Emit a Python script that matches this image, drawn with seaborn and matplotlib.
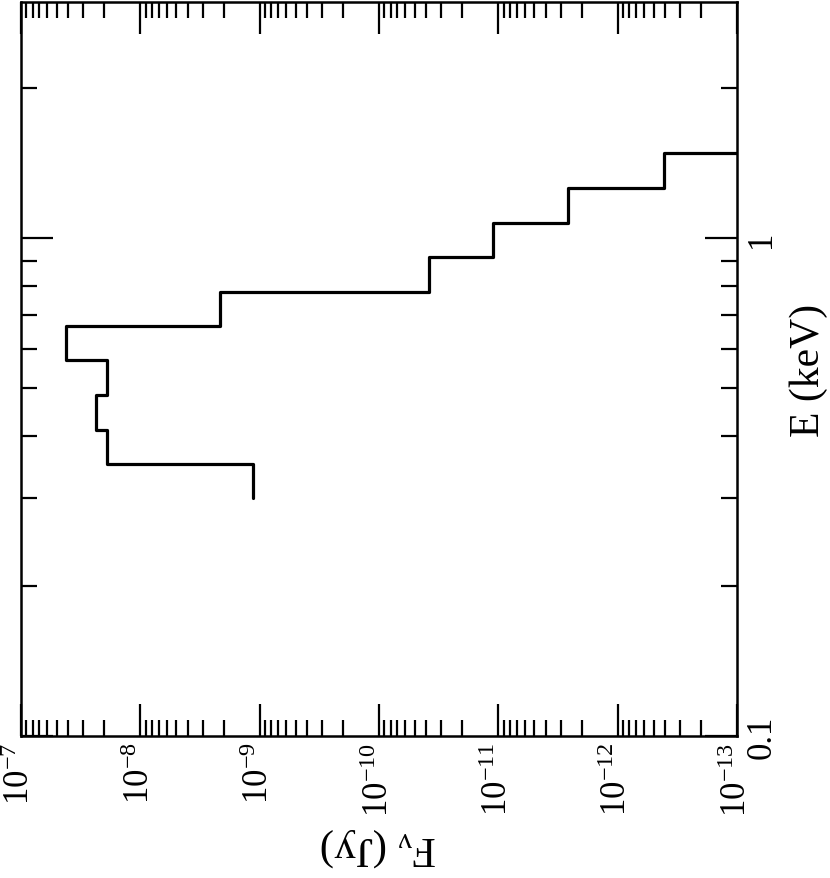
import numpy as np
import pandas as pd
import matplotlib
matplotlib.use("Agg")
import matplotlib.pyplot as plt
import matplotlib.ticker as mticker
import seaborn as sns

# Chart is drawn "rotated": flux runs along the horizontal axis, energy up the side
sns.set_style("ticks")
plt.rcParams['font.family'] = ['Liberation Serif', 'DejaVu Serif']
plt.rcParams['mathtext.fontset'] = 'custom'
plt.rcParams['mathtext.rm'] = 'Liberation Serif'
plt.rcParams['mathtext.it'] = 'Liberation Serif:italic'
plt.rcParams['mathtext.fallback'] = 'stix'
plt.rcParams['text.color'] = 'black'
plt.rcParams['axes.labelcolor'] = 'black'
plt.rcParams['xtick.color'] = 'black'
plt.rcParams['ytick.color'] = 'black'
plt.rcParams['xtick.labelcolor'] = 'black'
plt.rcParams['ytick.labelcolor'] = 'black'

# Bin edges (keV) and flux per bin (Jy)
energy_edges = [0.300, 0.352, 0.4125, 0.483, 0.568, 0.666, 0.781, 0.916, 1.073, 1.26, 1.479, 1.74]
flux_values = [1.13e-9, 1.90e-8, 2.35e-8, 1.90e-8, 4.20e-8, 2.14e-9, 3.78e-11,
               1.11e-11, 2.59e-12, 4.09e-13, 3.0e-14]

flux_ticks = [1e-7, 1e-8, 1e-9, 1e-10, 1e-11, 1e-12, 1e-13]
energy_ticks = [0.1, 1]

# Build the step outline: each bin is a segment of constant flux across its energy range
path_f = []
path_e = []
for i, f in enumerate(flux_values):
    path_f += [f, f]
    path_e += [energy_edges[i], energy_edges[i + 1]]
df = pd.DataFrame({'flux': path_f, 'energy': path_e})

fig = plt.figure(figsize=(8.3, 8.79), dpi=100)
ax = fig.add_axes([21 / 830, 1 - 737 / 879, 716 / 830, 734 / 879])

sns.lineplot(data=df, x='flux', y='energy', sort=False, estimator=None,
             color='black', linewidth=2.3, ax=ax)

ax.set_xscale('log')
ax.set_yscale('log')
ax.set_xlim(1e-7, 1e-13)
ax.set_ylim(0.1, 2.98)

ax.xaxis.set_major_locator(mticker.FixedLocator(flux_ticks))
ax.xaxis.set_minor_locator(mticker.LogLocator(base=10, subs=np.arange(2, 10), numticks=20))
ax.xaxis.set_major_formatter(mticker.FuncFormatter(lambda v, p: r'$10^{%d}$' % round(np.log10(v))))
ax.xaxis.set_minor_formatter(mticker.NullFormatter())

ax.yaxis.set_major_locator(mticker.FixedLocator(energy_ticks))
ax.yaxis.set_minor_locator(mticker.LogLocator(base=10, subs=np.arange(2, 10), numticks=20))
ax.yaxis.set_major_formatter(mticker.FuncFormatter(lambda v, p: '%g' % v))
ax.yaxis.set_minor_formatter(mticker.NullFormatter())

ax.tick_params(which='both', direction='in', top=True, bottom=True, left=True, right=True,
               labelleft=False, labelright=True, color='black', width=1.6)
ax.tick_params(which='major', length=23)
ax.tick_params(which='minor', length=11.5)
ax.tick_params(axis='x', which='major', labelsize=25, labelrotation=90, pad=4)
ax.tick_params(axis='y', which='major', labelsize=25, labelrotation=90, pad=6)
for lab in ax.get_yticklabels():
    lab.set_verticalalignment('center')

for side in ['top', 'bottom', 'left', 'right']:
    ax.spines[side].set_visible(True)
    ax.spines[side].set_linewidth(1.8)
    ax.spines[side].set_color('black')

ax.grid(False)

# Axis titles, turned with the rest of the chart
ax.set_xlabel(r'$\mathrm{F_{\nu}}$ (Jy)', fontsize=31, rotation=180)
ax.xaxis.set_label_coords(0.5, -0.121)
ax.xaxis.label.set_verticalalignment('top')

ax.yaxis.set_label_position('right')
ax.set_ylabel('E (keV)', fontsize=30)
ax.yaxis.label.set_rotation(90)
ax.yaxis.label.set_rotation_mode('default')
ax.yaxis.label.set_horizontalalignment('left')
ax.yaxis.label.set_verticalalignment('center')
ax.yaxis.set_label_coords(1.0726, 0.5)

fig.savefig('out.png', dpi=100, facecolor='white')
